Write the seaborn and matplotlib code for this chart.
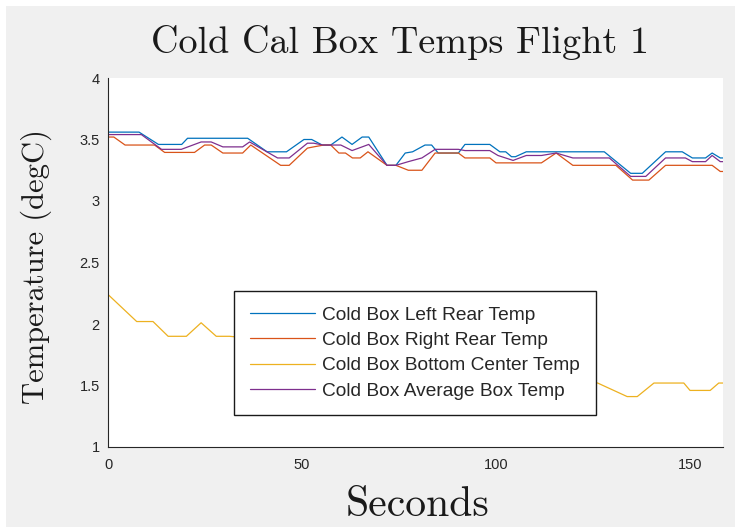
import matplotlib
matplotlib.use("Agg")
import matplotlib.pyplot as plt
from matplotlib.patches import Rectangle
import numpy as np
import pandas as pd
import seaborn as sns

# Sensor traces (time in seconds, temperature in degC), vertices of each trace
left_t = [0, 8, 13, 19, 20.5, 36, 41, 46, 50.5, 52.5, 55.2, 57.4, 60.3, 62.9, 65.5, 67.2,
          71.9, 74.2, 76.6, 78.5, 81.7, 83.4, 85.1, 90.3, 92, 98.4, 101, 102.5, 104, 105,
          107.8, 127.9, 134.7, 137.7, 143.7, 148, 150.6, 154, 155.7, 157.8, 158.5]
left_v = [3.56, 3.56, 3.46, 3.46, 3.51, 3.51, 3.40, 3.40, 3.50, 3.50, 3.455, 3.455, 3.52, 3.46,
          3.52, 3.52, 3.29, 3.29, 3.39, 3.40, 3.455, 3.455, 3.39, 3.39, 3.46, 3.46, 3.40, 3.40,
          3.36, 3.36, 3.40, 3.40, 3.225, 3.225, 3.40, 3.40, 3.35, 3.35, 3.39, 3.35, 3.35]

right_t = [0, 1.5, 4.4, 12, 14.6, 22.3, 24.9, 26.6, 29.6, 34.7, 36.8, 44.5, 46.7, 51.4, 53,
           55.6, 57.4, 59.5, 61.2, 63, 65, 67, 71.9, 74.2, 77.4, 80.9, 84.3, 90.3, 92, 98.4,
           100, 104.4, 111.7, 115.5, 119.8, 130.9, 135.2, 139.4, 143.7, 148.8, 155.7, 157.8, 158.5]
right_v = [3.52, 3.52, 3.455, 3.455, 3.395, 3.395, 3.455, 3.455, 3.39, 3.39, 3.455, 3.29, 3.29,
           3.43, 3.44, 3.455, 3.455, 3.39, 3.39, 3.35, 3.35, 3.40, 3.29, 3.29, 3.25, 3.25, 3.39,
           3.39, 3.35, 3.35, 3.31, 3.31, 3.31, 3.39, 3.29, 3.29, 3.17, 3.17, 3.29, 3.29, 3.29,
           3.24, 3.24]

bottom_t = [0, 7.4, 11.6, 15.5, 20.2, 24, 27.9, 31.3, 50, 75, 100, 120, 126.2, 133.8, 136.4,
            140.7, 148.4, 150, 155.2, 157.4, 158.5]
bottom_v = [2.24, 2.02, 2.02, 1.90, 1.90, 2.01, 1.90, 1.90, 1.85, 1.75, 1.65, 1.57, 1.52, 1.41,
            1.41, 1.52, 1.52, 1.46, 1.46, 1.52, 1.52]

avg_t = [0, 8.6, 13.8, 18.9, 24, 26.6, 29.6, 34.7, 36.5, 43.7, 46.7, 51.4, 53, 55.4, 57.4, 60,
         62.9, 65.5, 67.2, 71.9, 74.2, 77.4, 80.9, 84.3, 90.3, 92, 98.4, 100.5, 104.4, 107.8,
         111.7, 115.5, 119.8, 129.2, 134.7, 138.6, 143.7, 148.8, 150.6, 154, 155.7, 157.8, 158.5]
avg_v = [3.54, 3.54, 3.42, 3.42, 3.48, 3.48, 3.44, 3.44, 3.48, 3.35, 3.35, 3.47, 3.47, 3.455,
         3.455, 3.455, 3.41, 3.44, 3.46, 3.29, 3.29, 3.32, 3.35, 3.42, 3.42, 3.41, 3.41, 3.37,
         3.33, 3.37, 3.37, 3.39, 3.35, 3.35, 3.20, 3.20, 3.35, 3.35, 3.32, 3.32, 3.37, 3.32, 3.32]

series_names = ["Cold Box Left Rear Temp", "Cold Box Right Rear Temp",
                "Cold Box Bottom Center Temp", "Cold Box Average Box Temp"]
series_colors = ["#0072BD", "#D95319", "#EDB120", "#7E2F8E"]

x_ticks = [0, 50, 100, 150]
y_ticks = [1, 1.5, 2, 2.5, 3, 3.5, 4]
y_ticklabels = ["1", "1.5", "2", "2.5", "3", "3.5", "4"]

frames = []
for name, t, v in zip(series_names, [left_t, right_t, bottom_t, avg_t],
                      [left_v, right_v, bottom_v, avg_v]):
    frames.append(pd.DataFrame({"Seconds": t, "Temp": v, "Sensor": name}))
df = pd.concat(frames, ignore_index=True)

sns.set_style("white")
plt.rcParams["font.family"] = ["Liberation Sans", "DejaVu Sans"]

fig = plt.figure(figsize=(7.35, 5.27), dpi=100)
fig.patch.set_facecolor("white")
fig.patches.append(Rectangle((6 / 735, 0), 1, 1 - 6 / 527, transform=fig.transFigure,
                             facecolor="#f0f0f0", edgecolor="none", zorder=-10))

ax = fig.add_axes([108 / 735, 1 - 447 / 527, 615 / 735, 369 / 527])
ax.set_facecolor("white")

sns.lineplot(data=df, x="Seconds", y="Temp", hue="Sensor", hue_order=series_names,
             palette=series_colors, estimator=None, sort=False, linewidth=0.9, ax=ax)

ax.set_xlim(0, 158.5)
ax.set_ylim(1, 4)
ax.set_xticks(x_ticks)
ax.set_yticks(y_ticks)
ax.set_yticklabels(y_ticklabels)
ax.tick_params(direction="in", length=5, width=0.8, colors="#262626", labelsize=10.5,
               pad=6)
ax.tick_params(axis="x", pad=8)
for side in ["top", "right"]:
    ax.spines[side].set_visible(False)
for side in ["left", "bottom"]:
    ax.spines[side].set_color("#262626")
    ax.spines[side].set_linewidth(0.8)

ax.set_xlabel("")
ax.set_ylabel("")
fig.text(417 / 735, 1 - 516 / 527, "Seconds", fontfamily="cmr10", fontsize=30,
         ha="center", va="baseline", color="#1a1a1a")
fig.text(36 / 735, 1 - 267 / 527, "Temperature (degC)", fontfamily="cmr10", fontsize=22,
         ha="center", va="center", rotation=90, color="#1a1a1a")
fig.text(400 / 735, 1 - 42 / 527, "Cold Cal Box Temps Flight 1", fontfamily="cmr10",
         fontsize=27.5, ha="center", va="center", color="#1a1a1a")

leg = ax.legend(loc="center", bbox_to_anchor=((415 - 108) / 615, (447 - 353) / 369),
                fontsize=13.8, frameon=True, fancybox=False, handlelength=3.4,
                handletextpad=0.4, labelspacing=0.42, borderpad=0.8)
leg.get_frame().set_edgecolor("#1a1a1a")
leg.get_frame().set_linewidth(1.0)
leg.get_frame().set_facecolor("white")
leg.get_frame().set_alpha(1)
for txt in leg.get_texts():
    txt.set_color("#262626")

fig.savefig("out.png", dpi=100, facecolor=fig.get_facecolor())
